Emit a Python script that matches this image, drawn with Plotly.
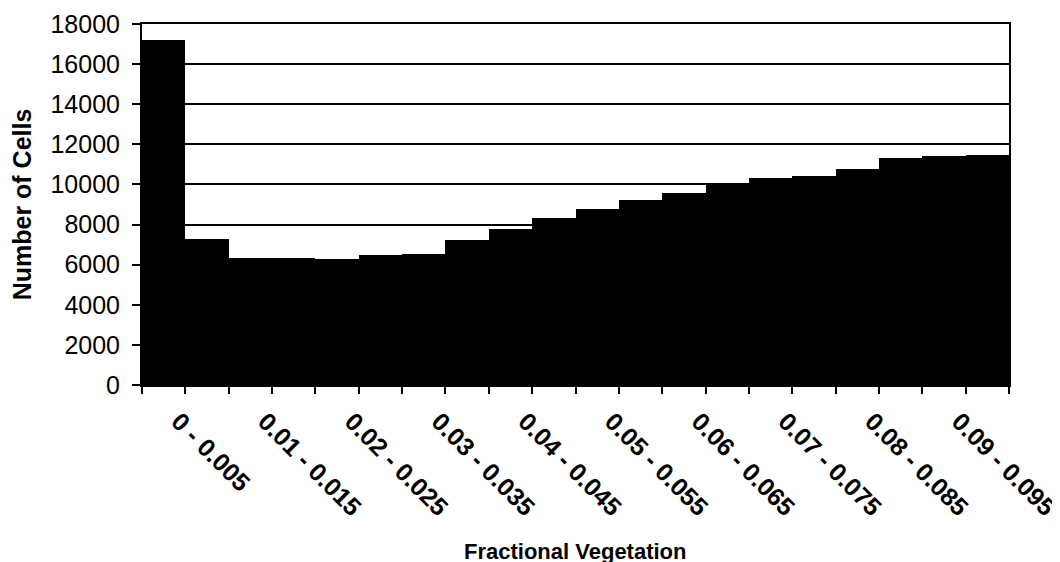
import plotly.graph_objects as go

categories = ["0 - 0.005", "0.005 - 0.01", "0.01 - 0.015", "0.015 - 0.02",
              "0.02 - 0.025", "0.025 - 0.03", "0.03 - 0.035", "0.035 - 0.04",
              "0.04 - 0.045", "0.045 - 0.05", "0.05 - 0.055", "0.055 - 0.06",
              "0.06 - 0.065", "0.065 - 0.07", "0.07 - 0.075", "0.075 - 0.08",
              "0.08 - 0.085", "0.085 - 0.09", "0.09 - 0.095", "0.095 - 0.1"]
counts = [17200, 7300, 6350, 6350, 6300, 6500, 6550, 7250, 7800, 8350,
          8800, 9200, 9580, 10080, 10300, 10400, 10750, 11300, 11400, 11450]
shown_labels = ["0 - 0.005", "", "0.01 - 0.015", "", "0.02 - 0.025", "",
                "0.03 - 0.035", "", "0.04 - 0.045", "", "0.05 - 0.055", "",
                "0.06 - 0.065", "", "0.07 - 0.075", "", "0.08 - 0.085", "",
                "0.09 - 0.095", ""]
y_ticks = [0, 2000, 4000, 6000, 8000, 10000, 12000, 14000, 16000, 18000]
y_tick_text = ["0", "2000", "4000", "6000", "8000", "10000", "12000", "14000", "16000", "18000"]
x_title = "Fractional Vegetation"
y_title = "Number of Cells"

fig = go.Figure(go.Bar(x=categories, y=counts, marker=dict(color="black", line=dict(width=0))))

fig.update_layout(
    width=1060, height=562,
    margin=dict(l=134, r=59, t=16, b=185, autoexpand=False),
    paper_bgcolor="white", plot_bgcolor="white",
    bargap=0,
    showlegend=False,
    font=dict(family="Liberation Sans, Arial, sans-serif", color="black"),
    xaxis=dict(
        type="category", automargin=False,
        tickmode="array", tickvals=categories, ticktext=shown_labels,
        tickson="boundaries",
        tickangle=45,
        ticks="outside", ticklen=7, tickwidth=2, tickcolor="black",
        ticklabelstandoff=10, ticklabelshift=15,
        tickfont=dict(size=25, family="Liberation Sans, Arial, sans-serif", weight="bold"),
        showline=True, linecolor="black", linewidth=2, mirror=True,
        showgrid=False,
    ),
    yaxis=dict(
        range=[0, 18000], automargin=False,
        tickmode="array", tickvals=y_ticks, ticktext=y_tick_text,
        ticks="outside", ticklen=8, tickwidth=2, tickcolor="black",
        ticklabelstandoff=7,
        tickfont=dict(size=25),
        showline=True, linecolor="black", linewidth=2, mirror=True,
        showgrid=True, gridcolor="black", gridwidth=2,
        zeroline=False,
        title=dict(text="<b>" + y_title + "</b>", font=dict(size=25), standoff=18),
    ),
    annotations=[dict(
        text="<b>" + x_title + "</b>", font=dict(size=22),
        xref="paper", yref="paper", x=0.5, y=-0.4626,
        xanchor="center", yanchor="middle", showarrow=False,
    )],
)

fig.write_html("out.html")
